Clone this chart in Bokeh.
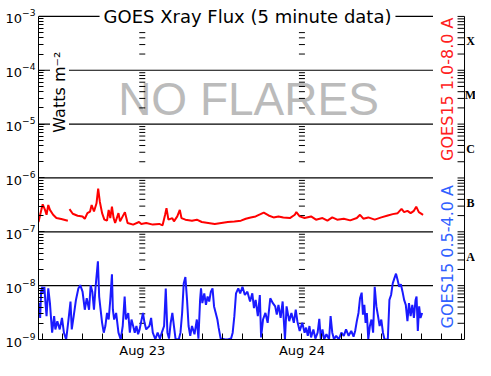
import math
from bokeh.plotting import figure
from bokeh.models import Range1d, FixedTicker, Label
from bokeh.core.properties import value
from bokeh.embed import file_html
from bokeh.resources import INLINE

# ---- time axis: hours relative to Aug 23 00:00 UT ----
x_start, x_axis_right, x_frame_end = -15.6, 48.44, 50.09
grid_end = 43.7
tick_len_h = 1.05
day_ticks = [0, 24]
day_labels = ["Aug 23", "Aug 24"]
hour_minor = list(range(-15, 49, 3))

decades = [1e-9, 1e-8, 1e-7, 1e-6, 1e-5, 1e-4, 1e-3]
y_top = 10 ** (-3 + 0.2954)
class_labels = ["A", "B", "C", "M", "X"]

# ---- GOES15 1.0-8.0 A (long channel), W m^-2 ----
red_t = [-15.6, -15.35, -14.97, -14.62, -14.39, -14.13, -13.88, -13.40, -12.91, -12.18,
         -11.19, -11.05, -10.94, -10.45, -9.72, -8.98, -8.64, -8.25, -7.85, -7.61,
         -7.26, -6.88, -6.63, -6.38, -6.04, -5.70, -5.30, -5.05, -4.81, -4.56,
         -4.31, -4.08, -3.58, -3.34, -2.61, -2.21, -1.37, -0.49, -0.15, 0.59,
         1.58, 2.55, 3.05, 3.43, 3.64, 3.93, 4.52, 4.76, 5.26, 5.64,
         5.89, 6.48, 7.47, 8.20, 8.94, 9.91, 10.90, 11.88, 12.85, 13.84,
         14.83, 15.56, 16.30, 17.04, 17.77, 18.26, 18.99, 19.73, 20.47, 21.20,
         22.19, 22.93, 23.16, 23.66, 24.40, 25.37, 26.11, 27.09, 27.83, 28.56,
         29.30, 30.29, 31.26, 32.25, 32.73, 33.23, 33.97, 34.94, 35.93, 36.91,
         37.65, 38.39, 38.97, 39.36, 39.86, 40.34, 40.83, 41.18, 41.57, 42.21]
red_flux = [1.52e-7, 2.07e-7, 3.24e-7, 2.55e-7, 2.07e-7, 3.15e-7, 2.55e-7, 2.07e-7, 1.80e-7, 1.73e-7,
            1.61e-7, float("nan"), 2.63e-7, 2.16e-7, 1.99e-7, 1.93e-7, 1.75e-7, 2.22e-7, 2.38e-7, 3.15e-7,
            2.38e-7, 3.38e-7, 6.35e-7, 3.62e-7, 2.22e-7, 1.68e-7, 1.61e-7, 2.55e-7, 1.80e-7, 2.93e-7,
            1.80e-7, 1.46e-7, 2.22e-7, 1.56e-7, 2.32e-7, 1.46e-7, 1.36e-7, 1.52e-7, 1.40e-7, 1.46e-7,
            1.36e-7, 1.40e-7, 1.32e-7, 2.07e-7, 2.74e-7, 1.68e-7, 1.80e-7, 1.56e-7, 1.93e-7, 2.55e-7,
            1.80e-7, 1.68e-7, 1.61e-7, 1.68e-7, 1.52e-7, 1.46e-7, 1.40e-7, 1.46e-7, 1.52e-7, 1.56e-7,
            1.61e-7, 1.75e-7, 1.85e-7, 1.93e-7, 2.13e-7, 2.28e-7, 2.01e-7, 1.85e-7, 1.93e-7, 1.85e-7,
            1.80e-7, 2.07e-7, 2.32e-7, 1.93e-7, 1.80e-7, 1.93e-7, 1.68e-7, 1.80e-7, 1.61e-7, 1.85e-7,
            1.68e-7, 1.75e-7, 1.63e-7, 1.80e-7, 2.07e-7, 1.75e-7, 1.85e-7, 1.68e-7, 1.85e-7, 2.01e-7,
            2.13e-7, 2.22e-7, 2.66e-7, 2.32e-7, 2.45e-7, 2.22e-7, 2.45e-7, 2.93e-7, 2.32e-7, 2.07e-7]

# ---- GOES15 0.5-4.0 A (short channel), W m^-2 ----
blue_t = [-15.6, -15.50, -15.35, -15.21, -15.02, -14.87, -14.72, -14.53, -14.39, -14.13,
          -13.88, -13.74, -13.55, -13.25, -13.06, -12.77, -12.41, -12.07, -11.78, -11.44,
          -11.09, -10.79, -10.60, -10.31, -9.97, -9.61, -9.32, -8.98, -8.64, -8.35,
          -8.00, -7.76, -7.51, -7.26, -7.02, -6.67, -6.48, -6.29, -6.04, -5.79,
          -5.55, -5.30, -5.05, -4.81, -4.56, -4.42, -4.23, -3.93, -3.58, -3.24,
          -2.94, -2.65, -2.46, -2.11, -1.87, -1.62, -1.37, -1.13, -0.88, -0.63,
          -0.40, -0.15, 0.10, 0.34, 0.59, 1.07, 1.33, 1.58, 1.96, 2.31,
          2.65, 2.94, 3.28, 3.53, 3.78, 4.02, 4.27, 4.52, 4.76, 5.01,
          5.49, 5.74, 5.99, 6.23, 6.48, 6.73, 6.96, 7.21, 7.47, 7.85,
          8.20, 8.44, 8.69, 8.83, 9.03, 9.32, 9.57, 9.82, 10.06, 10.31,
          10.56, 10.79, 11.04, 11.29, 11.48, 11.78, 12.37, 12.85, 13.35, 13.59,
          13.84, 14.09, 14.43, 14.72, 15.06, 15.42, 15.80, 16.20, 16.54, 16.79,
          17.04, 17.37, 17.67, 17.86, 18.15, 18.51, 18.85, 19.24, 19.63, 19.98,
          20.22, 20.47, 20.80, 21.10, 21.45, 21.69, 22.09, 22.42, 22.78, 23.07,
          23.31, 23.66, 24.05, 24.40, 24.63, 24.88, 25.13, 25.37, 25.72, 26.02,
          26.36, 26.61, 26.84, 27.09, 27.34, 27.68, 28.08, 28.31, 28.56, 28.82,
          29.15, 29.55, 29.93, 30.29, 30.63, 31.02, 31.41, 31.76, 32.00, 32.25,
          32.50, 32.73, 32.98, 33.17, 33.38, 33.57, 33.76, 33.97, 34.21, 34.45,
          34.70, 34.94, 35.19, 35.44, 35.68, 35.93, 36.18, 36.41, 36.91, 37.15,
          37.40, 37.65, 37.88, 38.14, 38.39, 38.62, 38.87, 39.12, 39.36, 39.61,
          39.86, 40.09, 40.34, 40.59, 40.83, 41.08, 41.23, 41.42, 41.62, 41.82,
          42.07]
blue_flux = [2.71e-9, 4.73e-9, 2.52e-9, 7.73e-9, 9.53e-9, 7.20e-9, 9.53e-9, 4.40e-9, 2.71e-9, 8.88e-9,
             4.73e-9, 2.71e-9, 1.34e-9, 2.71e-9, 1.54e-9, 2.19e-9, 1.54e-9, 2.52e-9, 1.34e-9, 1.00e-9,
             2.35e-9, 5.08e-9, 1.54e-9, 2.71e-9, 5.43e-9, 8.88e-9, 1.02e-8, 7.73e-9, 3.57e-9, 5.83e-9,
             3.57e-9, 1.02e-8, 7.73e-9, 3.57e-9, 9.53e-9, 2.84e-8, 6.27e-9, 3.83e-9, 2.04e-9, 1.34e-9,
             1.78e-9, 3.11e-9, 2.35e-9, 5.43e-9, 1.62e-8, 3.57e-9, 2.35e-9, 3.11e-9, 1.34e-9, 1.00e-9,
             1.78e-9, 6.27e-9, 2.35e-9, 3.11e-9, 1.34e-9, 2.35e-9, 1.78e-9, 1.34e-9, 1.78e-9, 1.25e-9,
             1.54e-9, 2.19e-9, 3.11e-9, 2.04e-9, 1.54e-9, 1.78e-9, 2.52e-9, 1.34e-9, 1.01e-9, 1.34e-9,
             1.04e-9, 1.34e-9, 1.78e-9, 8.88e-9, 1.34e-9, 1.04e-9, 2.04e-9, 3.11e-9, 1.78e-9, 1.01e-9,
             1.01e-9, 1.34e-9, 3.11e-9, 1.10e-8, 1.45e-8, 5.43e-9, 1.78e-9, 1.17e-9, 1.78e-9, 1.25e-9,
             2.35e-9, 1.04e-9, 5.43e-9, 8.88e-9, 4.73e-9, 7.20e-9, 4.40e-9, 6.27e-9, 5.08e-9, 7.73e-9,
             8.88e-9, 4.12e-9, 3.11e-9, 2.35e-9, 1.66e-9, 1.04e-9, 1.01e-9, 1.00e-9, 1.04e-9, 1.34e-9,
             2.71e-9, 7.20e-9, 8.88e-9, 7.20e-9, 9.53e-9, 6.70e-9, 7.73e-9, 5.08e-9, 7.20e-9, 3.83e-9,
             5.43e-9, 2.71e-9, 6.70e-9, 1.09e-9, 2.35e-9, 3.11e-9, 2.04e-9, 5.83e-9, 4.73e-9, 4.12e-9,
             2.89e-9, 4.40e-9, 2.52e-9, 5.08e-9, 1.01e-9, 4.12e-9, 2.19e-9, 3.11e-9, 2.04e-9, 3.57e-9,
             2.19e-9, 1.44e-9, 2.04e-9, 1.34e-9, 1.66e-9, 1.17e-9, 1.78e-9, 1.09e-9, 1.54e-9, 1.04e-9,
             1.34e-9, 2.42e-9, 1.01e-9, 1.54e-9, 1.01e-9, 1.25e-9, 1.01e-9, 2.71e-9, 1.34e-9, 1.01e-9,
             1.17e-9, 1.01e-9, 1.34e-9, 1.17e-9, 1.54e-9, 1.17e-9, 1.44e-9, 1.13e-9, 1.44e-9, 2.19e-9,
             3.11e-9, 5.83e-9, 7.41e-9, 2.89e-9, 4.40e-9, 2.04e-9, 3.11e-9, 1.01e-9, 1.78e-9, 2.35e-9,
             1.34e-9, 9.53e-9, 4.12e-9, 2.71e-9, 1.78e-9, 2.35e-9, 1.34e-9, 1.01e-9, 1.00e-9, 5.43e-9,
             6.70e-9, 1.10e-8, 1.35e-8, 1.67e-8, 1.26e-8, 9.53e-9, 1.06e-8, 7.73e-9, 5.43e-9, 4.40e-9,
             2.19e-9, 4.73e-9, 2.71e-9, 4.40e-9, 2.52e-9, 5.43e-9, 6.27e-9, 1.44e-9, 4.12e-9, 2.52e-9,
             3.11e-9]

minor_vals = [k * d for d in decades[:-1] for k in range(2, 10)]
class_centers = [math.sqrt(decades[i] * decades[i + 1]) for i in range(1, 6)]

p = figure(width=475, height=360, x_range=Range1d(x_start, x_frame_end),
           y_range=Range1d(decades[0], y_top), y_axis_type="log",
           output_backend="svg", toolbar_location=None,
           min_border_left=38, min_border_right=0, min_border_top=0, min_border_bottom=19)
p.outline_line_color = None
p.xgrid.visible = False
p.ygrid.visible = False
p.background_fill_color = "white"
p.border_fill_color = "white"

# left axis
ya = p.yaxis[0]
ya.bounds = (decades[0], decades[-1])
ya.ticker = FixedTicker(ticks=decades, minor_ticks=minor_vals)
ya.major_tick_in = 6
ya.major_tick_out = 0
ya.minor_tick_in = 5
ya.minor_tick_out = 0
ya.major_label_standoff = 3
ya.major_label_text_font = "DejaVu Sans"
ya.major_label_text_font_size = "13px"
ya.major_label_text_color = "black"
ya.axis_line_color = "black"

# bottom axis
xa = p.xaxis[0]
xa.bounds = (x_start, x_axis_right)
xa.ticker = FixedTicker(ticks=day_ticks, minor_ticks=hour_minor)
xa.major_label_overrides = dict(zip(day_ticks, day_labels))
xa.major_tick_in = 0
xa.major_tick_out = 0
xa.minor_tick_in = 6
xa.minor_tick_out = 0
xa.major_label_standoff = 3
xa.major_label_text_font = "DejaVu Sans"
xa.major_label_text_font_size = "13px"
xa.major_label_text_color = "black"
xa.axis_line_color = "black"

mid_x = (x_start + x_axis_right) / 2
mid_mx = math.sqrt(decades[4] * decades[5])

# big background text
p.text(x=[mid_x], y=[mid_mx], text=["NO FLARES"],
       text_align="center", text_baseline="middle", x_offset=-3, y_offset=2,
       text_font=value("Liberation Sans"), text_font_size=value("46px"),
       text_color="#bbbbbb")

# decade grid lines
gl = decades[1:]
p.segment(x0=[x_start] * len(gl), x1=[grid_end] * len(gl), y0=gl, y1=gl,
          line_color="black", line_width=1.2)

# right-hand axis line with inward ticks
p.segment(x0=[x_axis_right], x1=[x_axis_right], y0=[decades[0]], y1=[decades[-1]],
          line_color="black", line_width=1)
rt = decades + minor_vals
p.segment(x0=[x_axis_right - tick_len_h] * len(rt), x1=[x_axis_right] * len(rt), y0=rt, y1=rt,
          line_color="black", line_width=1)

# day boundary tick columns
p.scatter(x=[d for d in day_ticks for m in minor_vals],
          y=[m for d in day_ticks for m in minor_vals],
          marker="dash", size=6, line_color="black", line_width=1)

# data
p.line(blue_t, blue_flux, line_color="#1a1aff", line_width=2)
p.line(red_t, red_flux, line_color="#ff0000", line_width=2)

# annotations
p.add_layout(Label(x=mid_x, y=decades[-1], x_offset=-4, text="GOES Xray Flux (5 minute data)",
                   text_align="center", text_baseline="middle",
                   text_font="DejaVu Sans", text_font_size="18px", text_color="black",
                   background_fill_color="white", padding=4))

p.add_layout(Label(x=x_start, y=mid_mx, x_offset=21, y_offset=5,
                   text="Watts m⁻²", angle=math.pi / 2, text_align="center", text_baseline="middle",
                   text_font="DejaVu Sans", text_font_size="16px", text_color="black",
                   background_fill_color="white"))

p.add_layout(Label(x=x_axis_right, y=math.sqrt(decades[3] * decades[6]), x_offset=-17, y_offset=8,
                   text="GOES15 1.0-8.0 A", angle=math.pi / 2, text_align="center",
                   text_baseline="middle", text_font="DejaVu Sans", text_font_size="16px",
                   text_color="#ff2020", background_fill_color="white"))

p.add_layout(Label(x=x_axis_right, y=math.sqrt(decades[0] * decades[3]), x_offset=-17, y_offset=2,
                   text="GOES15 0.5-4.0 A", angle=math.pi / 2, text_align="center",
                   text_baseline="middle", text_font="DejaVu Sans", text_font_size="16px",
                   text_color="#3060ff", background_fill_color="white"))

for lab, yc in zip(class_labels, class_centers):
    p.add_layout(Label(x=x_axis_right, y=yc, x_offset=6, y_offset=2, text=lab,
                       text_align="center", text_baseline="middle",
                       text_font="Liberation Serif", text_font_style="bold",
                       text_font_size="12px", text_color="black"))

open("out.html", "w").write(file_html(p, INLINE))
